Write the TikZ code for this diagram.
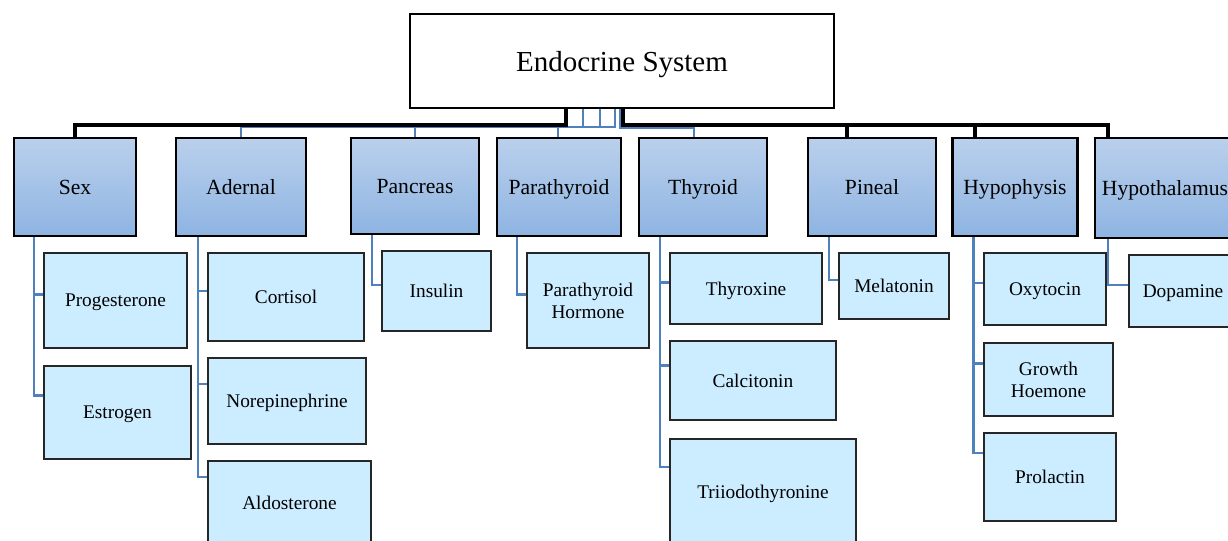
\documentclass[tikz,border=0pt]{standalone}
\usepackage{fontspec}
\setmainfont{Liberation Serif}
\usetikzlibrary{calc}

\definecolor{organtop}{RGB}{186,208,236}
\definecolor{organbot}{RGB}{142,180,226}
\definecolor{hormonefill}{RGB}{204,236,255}
\definecolor{linkblue}{RGB}{79,129,189}

\begin{document}
\begin{tikzpicture}[x=0.02cm, y=-0.02cm,
    root/.style={draw=black, line width=1.2pt, fill=white, inner sep=0pt, text depth=0pt,
      minimum width=8.48cm, minimum height=1.88cm, font=\fontsize{16.5}{19}\selectfont},
    organ/.style={draw=black, line width=1.2pt, top color=organtop, bottom color=organbot,
      inner sep=0pt, text depth=0pt, minimum height=1.96cm, font=\fontsize{12.3}{14}\selectfont},
    hormone/.style={draw=black!85, line width=1.2pt, fill=hormonefill, inner sep=0pt,
      text depth=0pt, align=center, font=\fontsize{11}{12.5}\selectfont},
    link/.style={draw=linkblue, line width=1.5pt},
    bus/.style={draw=black, line width=1.8pt}]
    \useasboundingbox (0,0) rectangle (1228,541);

    % Root
    \node[root] (root) at (622,61) {Endocrine System};

    % Glands
    \node[organ, minimum width=2.44cm] (sex) at (75,187) {Sex};
    \node[organ, minimum width=2.60cm] (adernal) at (241,187) {Adernal};
    \node[organ, minimum width=2.56cm, minimum height=1.92cm] (pancreas) at (415,186) {Pancreas};
    \node[organ, minimum width=2.48cm] (para) at (559,187) {Parathyroid};
    \node[organ, minimum width=2.56cm] (thyroid) at (703,187) {Thyroid};
    \node[organ, minimum width=2.56cm] (pineal) at (872,187) {Pineal};
    \node[organ, minimum width=2.50cm] (hypophysis) at (1015,187) {Hypophysis};
    \node[organ, minimum width=2.80cm, minimum height=2.00cm] (hypothal) at (1165,188) {Hypothalamus};

    % Hormones
    \node[hormone, minimum width=2.86cm, minimum height=1.90cm] (prog) at (115.5,300.5) {Progesterone};
    \node[hormone, minimum width=2.94cm, minimum height=1.86cm] (estrogen) at (117.5,412.5) {Estrogen};
    \node[hormone, minimum width=3.12cm, minimum height=1.76cm] (cortisol) at (286,297) {Cortisol};
    \node[hormone, minimum width=3.16cm, minimum height=1.72cm] (norepi) at (287,401) {Norepinephrine};
    \node[hormone, minimum width=3.26cm, minimum height=1.68cm] (aldo) at (289.5,503) {Aldosterone};
    \node[hormone, minimum width=2.18cm, minimum height=1.60cm] (insulin) at (436.5,291) {Insulin};
    \node[hormone, minimum width=2.44cm, minimum height=1.90cm] (pth) at (588,300.5) {Parathyroid\\Hormone};
    \node[hormone, minimum width=3.04cm, minimum height=1.42cm] (thyroxine) at (746,288.5) {Thyroxine};
    \node[hormone, minimum width=3.32cm, minimum height=1.58cm] (calcitonin) at (753,380.5) {Calcitonin};
    \node[hormone, minimum width=3.72cm, minimum height=2.12cm] (triiodo) at (763,492) {Triiodothyronine};
    \node[hormone, minimum width=2.20cm, minimum height=1.32cm] (melatonin) at (894,286) {Melatonin};
    \node[hormone, minimum width=2.44cm, minimum height=1.44cm] (oxytocin) at (1045,289) {Oxytocin};
    \node[hormone, minimum width=2.58cm, minimum height=1.46cm] (growth) at (1048.5,379.5) {Growth\\Hoemone};
    \node[hormone, minimum width=2.64cm, minimum height=1.76cm] (prolactin) at (1050,477) {Prolactin};
    \node[hormone, minimum width=2.16cm, minimum height=1.44cm] (dopamine) at (1183,291) {Dopamine};

    % Root to glands
    \draw[link] ($(root.south)+(-39,0)$) |- ($(para.north)+(-1,-10)$) -- ($(para.north)+(-1,0)$);
    \draw[link] ($(root.south)+(-22,0)$) |- ($(pancreas.north)+(0,-10)$) -- (pancreas.north);
    \draw[link] ($(root.south)+(-7,0)$) |- ($(adernal.north)+(0,-10)$) -- (adernal.north);
    \draw[link] ($(root.south)+(-2,0)$) |- ($(thyroid.north)+(-9,-9.5)$) -- ($(thyroid.north)+(-9,0)$);
    \draw[bus] ($(root.south)+(-56,0)$) |- ($(sex.north)+(0,-12)$) -- (sex.north);
    \draw[bus] ($(root.south)+(1,0)$) |- ($(hypothal.north west)+(14,-12)$) -- ($(hypothal.north west)+(14,0)$);
    \draw[bus] ($(pineal.north)+(-25,-12)$) -- ($(pineal.north)+(-25,0)$);
    \draw[bus] ($(hypophysis.north)+(-40,-12)$) -- ($(hypophysis.north)+(-40,0)$);

    % Glands to hormones
    \foreach \p/\s/\c/\d in {sex/21/prog/-6, sex/21/estrogen/-17,
        adernal/23/cortisol/-6, adernal/23/norepi/-17, adernal/23/aldo/-26,
        pancreas/22/insulin/-6, para/21/pth/-6,
        thyroid/22/thyroxine/-6, thyroid/22/calcitonin/-15, thyroid/22/triiodo/-25,
        pineal/22/melatonin/-6,
        hypophysis/22/oxytocin/-6, hypophysis/22/growth/-16, hypophysis/22/prolactin/-24,
        hypothal/14/dopamine/-6}
      \draw[link] ($(\p.south west)+(\s,0)$) |- ($(\c.west)+(0,\d)$);
\end{tikzpicture}
\end{document}
